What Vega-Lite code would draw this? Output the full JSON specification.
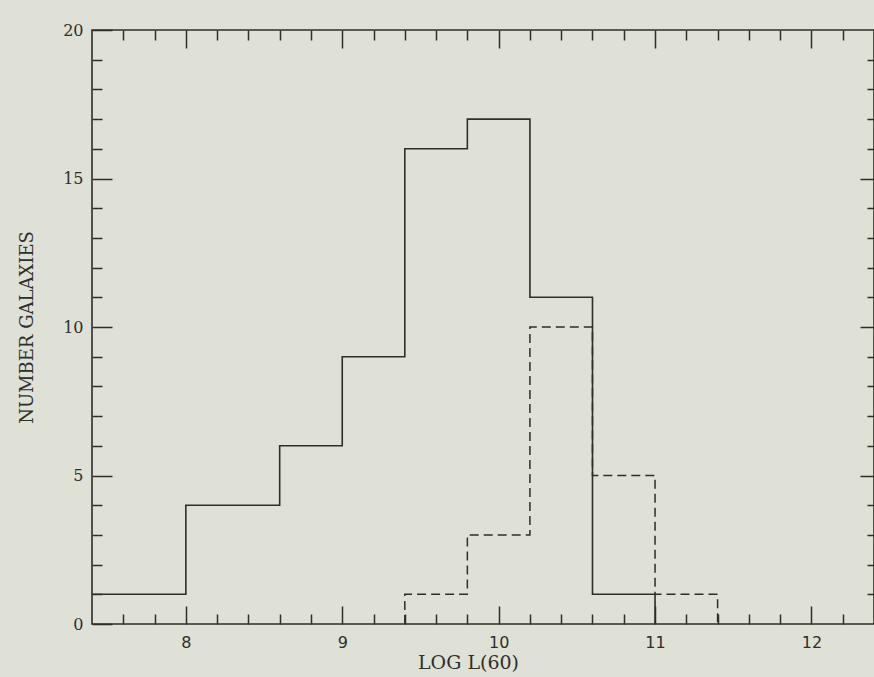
{
  "$schema": "https://vega.github.io/schema/vega-lite/v6.json",
  "autosize": "none",
  "width": 782,
  "height": 594,
  "padding": {"left": 92, "top": 30, "right": 0, "bottom": 53},
  "background": "#dfe0d6",
  "config": {
    "view": {"stroke": "#2e2e2a", "strokeWidth": 1.6},
    "axis": {"grid": false, "domain": false, "tickColor": "#2e2e2a", "tickWidth": 1.5, "labelColor": "#2e2e2a", "titleColor": "#2e2e2a", "labelFont": "DejaVu Sans", "titleFont": "DejaVu Serif", "labelFontSize": 16, "titleFontSize": 18, "titleFontWeight": "normal"}
  },
  "data": {"values": [
    {"series": "all", "i": 0, "logL": 7.4, "n": 1},
    {"series": "all", "i": 1, "logL": 8.0, "n": 4},
    {"series": "all", "i": 2, "logL": 8.6, "n": 6},
    {"series": "all", "i": 3, "logL": 9.0, "n": 9},
    {"series": "all", "i": 4, "logL": 9.4, "n": 16},
    {"series": "all", "i": 5, "logL": 9.8, "n": 17},
    {"series": "all", "i": 6, "logL": 10.2, "n": 11},
    {"series": "all", "i": 7, "logL": 10.6, "n": 1},
    {"series": "all", "i": 8, "logL": 11.0, "n": 0},
    {"series": "sub", "i": 0, "logL": 9.4, "n": 0},
    {"series": "sub", "i": 1, "logL": 9.4, "n": 1},
    {"series": "sub", "i": 2, "logL": 9.8, "n": 3},
    {"series": "sub", "i": 3, "logL": 10.2, "n": 10},
    {"series": "sub", "i": 4, "logL": 10.6, "n": 5},
    {"series": "sub", "i": 5, "logL": 11.0, "n": 1},
    {"series": "sub", "i": 6, "logL": 11.4, "n": 0}
  ]},
  "layer": [
    {
      "transform": [{"filter": "datum.series === 'all'"}],
      "mark": {"type": "line", "interpolate": "step-after", "color": "#2e2e2a", "strokeWidth": 1.6},
      "encoding": {
        "x": {"field": "logL", "type": "quantitative", "scale": {"domain": [7.4, 12.4], "nice": false, "zero": false},
          "axis": {"orient": "bottom", "title": "LOG L(60)", "titlePadding": 3, "titleX": 376, "titleFontSize": 19,
            "values": [7.6,7.8,8,8.2,8.4,8.6,8.8,9,9.2,9.4,9.6,9.8,10,10.2,10.4,10.6,10.8,11,11.2,11.4,11.6,11.8,12,12.2],
            "labelExpr": "abs(datum.value - round(datum.value)) < 0.001 ? format(datum.value, 'd') : ''",
            "tickSize": {"condition": {"test": "abs(datum.value - round(datum.value)) < 0.001", "value": -18}, "value": -10},
            "labelPadding": 28, "labelFlush": false}},
        "y": {"field": "n", "type": "quantitative", "scale": {"domain": [0, 20], "nice": false},
          "axis": {"orient": "left", "title": "NUMBER GALAXIES", "titlePadding": 26,
            "values": [0,1,2,3,4,5,6,7,8,9,10,11,12,13,14,15,16,17,18,19,20],
            "labelExpr": "datum.value % 5 === 0 ? format(datum.value, 'd') : ''",
            "tickSize": {"condition": {"test": "datum.value % 5 === 0", "value": -20}, "value": -10},
            "labelPadding": 29, "labelFont": "DejaVu Serif", "labelFlush": false}},
        "order": {"field": "i", "type": "quantitative"}
      }
    },
    {
      "transform": [{"filter": "datum.series === 'sub'"}],
      "mark": {"type": "line", "interpolate": "step-after", "color": "#2e2e2a", "strokeWidth": 1.5, "strokeDash": [9, 5]},
      "encoding": {
        "x": {"field": "logL", "type": "quantitative",
          "axis": {"orient": "top", "title": null, "labels": false,
            "values": [7.6,7.8,8,8.2,8.4,8.6,8.8,9,9.2,9.4,9.6,9.8,10,10.2,10.4,10.6,10.8,11,11.2,11.4,11.6,11.8,12,12.2],
            "tickSize": {"condition": {"test": "abs(datum.value - round(datum.value)) < 0.001", "value": -18}, "value": -10}}},
        "y": {"field": "n", "type": "quantitative",
          "axis": {"orient": "right", "title": null, "labels": false,
            "values": [1,2,3,4,5,6,7,8,9,10,11,12,13,14,15,16,17,18,19],
            "tickSize": {"condition": {"test": "datum.value % 5 === 0", "value": -14}, "value": -7}}},
        "order": {"field": "i", "type": "quantitative"}
      }
    }
  ],
  "resolve": {"axis": {"x": "independent", "y": "independent"}}
}
